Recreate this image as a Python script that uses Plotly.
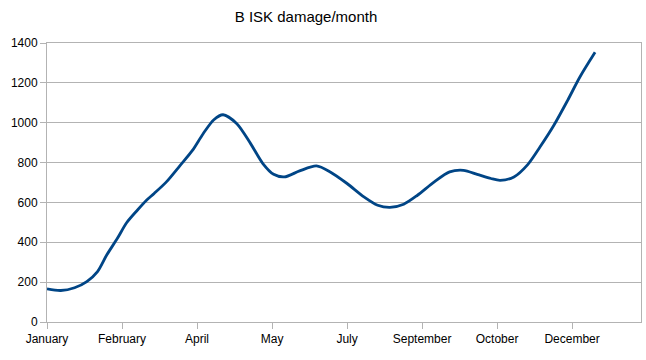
import plotly.graph_objects as go

# Dates (x) and values (y)
dates = [
    "2013-01-01", "2013-01-10", "2013-01-19", "2013-01-27", "2013-02-03",
    "2013-02-09", "2013-02-16", "2013-02-22", "2013-03-01", "2013-03-07",
    "2013-03-12", "2013-03-20", "2013-03-29", "2013-04-06", "2013-04-13",
    "2013-04-20", "2013-04-26", "2013-05-05", "2013-05-14", "2013-05-22",
    "2013-05-29", "2013-06-05", "2013-06-15", "2013-06-26", "2013-07-05",
    "2013-07-16", "2013-07-27", "2013-08-05", "2013-08-13", "2013-08-22",
    "2013-08-31", "2013-09-11", "2013-09-21", "2013-09-30", "2013-10-09",
    "2013-10-18", "2013-10-24", "2013-11-02", "2013-11-11", "2013-11-19",
    "2013-11-28", "2013-12-07", "2013-12-15", "2013-12-25",
]
damage = [
    166, 158, 172, 203, 253,
    336, 420, 498, 561, 611,
    645, 703, 786, 861, 945,
    1015, 1040, 995, 895, 795,
    741, 728, 758, 783, 753,
    695, 628, 586, 575, 591,
    636, 703, 753, 761, 741,
    720, 711, 728, 790, 878,
    986, 1111, 1228, 1353,
]

title_text = "B ISK damage/month"
x_range = ["2013-01-01", "2014-01-24"]
y_range = [0, 1400]
tick_start = "2013-01-01"
tick_step_days = 49

grid = "#b3b3b3"
font_family = "Liberation Sans, Arial, sans-serif"

fig = go.Figure()
fig.add_trace(go.Scatter(
    x=dates, y=damage, mode="lines",
    line=dict(color="#004586", width=2.8, shape="spline", smoothing=0.8),
    showlegend=False, hoverinfo="x+y",
))

fig.update_layout(
    width=646, height=360,
    margin=dict(l=47, r=5, t=43, b=38, pad=0),
    paper_bgcolor="white", plot_bgcolor="white",
    font=dict(family=font_family, size=12, color="black"),
    title=dict(text=title_text, x=306 / 646, xref="container", xanchor="center",
               y=1 - 17 / 360, yref="container", yanchor="middle",
               font=dict(family=font_family, size=15, color="black")),
    xaxis=dict(
        type="date", range=x_range, tick0=tick_start,
        dtick=tick_step_days * 86400000, tickformat="%B",
        showgrid=False, zeroline=False,
        showline=True, linecolor=grid, linewidth=1, mirror=True,
        ticks="outside", ticklen=6, tickcolor=grid, tickwidth=1,
        tickfont=dict(family=font_family, size=12, color="black"),
        fixedrange=True,
    ),
    yaxis=dict(
        range=y_range, dtick=200, tick0=0,
        showgrid=True, gridcolor=grid, gridwidth=1, zeroline=False,
        showline=True, linecolor=grid, linewidth=1, mirror=True,
        ticks="outside", ticklen=6, tickcolor=grid, tickwidth=1,
        tickfont=dict(family=font_family, size=12, color="black"),
        fixedrange=True,
    ),
)

fig.write_html(
    "out.html",
    config={"displayModeBar": False},
    post_script="document.body.style.margin='0px';document.body.style.padding='0px';",
)
